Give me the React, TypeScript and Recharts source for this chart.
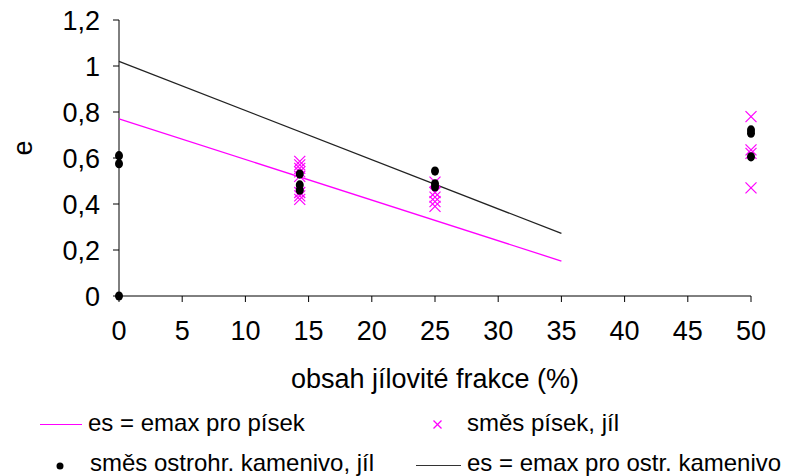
import { CartesianGrid, Label, Scatter, ScatterChart, XAxis, YAxis } from "recharts";

// obsah jílovité frakce (%) vs. e
const xTicks = [0, 5, 10, 15, 20, 25, 30, 35, 40, 45, 50];
const yTicks = [0, 0.2, 0.4, 0.6, 0.8, 1, 1.2];

const pisekLine = [
	{ x: 0, e: 0.77 },
	{ x: 35, e: 0.152 },
];
const kamenivoLine = [
	{ x: 0, e: 1.02 },
	{ x: 35, e: 0.272 },
];

const smesPisek = [
	{ x: 14.3, e: 0.585 },
	{ x: 14.3, e: 0.57 },
	{ x: 14.3, e: 0.555 },
	{ x: 14.3, e: 0.54 },
	{ x: 14.3, e: 0.52 },
	{ x: 14.3, e: 0.45 },
	{ x: 14.3, e: 0.435 },
	{ x: 14.3, e: 0.42 },
	{ x: 25, e: 0.495 },
	{ x: 25, e: 0.45 },
	{ x: 25, e: 0.43 },
	{ x: 25, e: 0.41 },
	{ x: 25, e: 0.39 },
	{ x: 50, e: 0.78 },
	{ x: 50, e: 0.635 },
	{ x: 50, e: 0.62 },
	{ x: 50, e: 0.47 },
];

const smesKamenivo = [
	{ x: 0, e: 0.61 },
	{ x: 0, e: 0.575 },
	{ x: 0, e: 0 },
	{ x: 14.3, e: 0.53 },
	{ x: 14.3, e: 0.483 },
	{ x: 14.3, e: 0.46 },
	{ x: 25, e: 0.543 },
	{ x: 25, e: 0.488 },
	{ x: 25, e: 0.474 },
	{ x: 50, e: 0.722 },
	{ x: 50, e: 0.708 },
	{ x: 50, e: 0.605 },
];

const font = "'Liberation Sans', Arial, sans-serif";
const axisFs = 27;
const legendFs = 24;
const fmt = (v: number) => String(v).replace(".", ",");

const Cross = (props: any) => {
	const { cx, cy } = props;
	const r = 5.5;
	return (
		<g stroke="#ff00ff" strokeWidth={1.2}>
			<line x1={cx - r} y1={cy - r} x2={cx + r} y2={cy + r} />
			<line x1={cx - r} y1={cy + r} x2={cx + r} y2={cy - r} />
		</g>
	);
};

const Dot = (props: any) => <ellipse cx={props.cx} cy={props.cy} rx={4} ry={4.6} fill="#000" />;

const legendText = {
	position: "absolute" as const,
	fontSize: legendFs,
	lineHeight: "24px",
	color: "#000",
	whiteSpace: "nowrap" as const,
};

export default function App() {
	return (
		<div style={{ position: "absolute", left: 0, top: 0, width: 788, height: 476, background: "#fff", fontFamily: font, overflow: "hidden" }}>
			<ScatterChart width={788} height={400} margin={{ top: 20, right: 37, bottom: 9, left: 39 }}>
				<CartesianGrid stroke="none" />
				<XAxis
					type="number"
					dataKey="x"
					domain={[0, 50]}
					ticks={xTicks}
					interval={0}
					height={95}
					tick={{ fontSize: axisFs, fill: "#000", fontFamily: font }}
					tickSize={6}
					tickMargin={19}
					stroke="#000"
				>
					<Label value="obsah jílovité frakce (%)" position="insideBottom" offset={3} fontSize={axisFs} fill="#000" fontFamily={font} />
				</XAxis>
				<YAxis
					type="number"
					dataKey="e"
					domain={[0, 1.2]}
					ticks={yTicks}
					interval={0}
					width={80}
					tickFormatter={fmt}
					tick={{ fontSize: axisFs, fill: "#000", fontFamily: font }}
					tickSize={6}
					tickMargin={13}
					stroke="#000"
				>
					<Label value="e" angle={-90} position="center" dx={-57} dy={-10} fontSize={axisFs} fill="#000" fontFamily={font} />
				</YAxis>
				<Scatter data={pisekLine} line={{ stroke: "#ff00ff", strokeWidth: 1.3 }} shape={() => <g />} isAnimationActive={false} />
				<Scatter data={kamenivoLine} line={{ stroke: "#222", strokeWidth: 1.3 }} shape={() => <g />} isAnimationActive={false} />
				<Scatter data={smesPisek} shape={Cross} isAnimationActive={false} />
				<Scatter data={smesKamenivo} shape={Dot} isAnimationActive={false} />
			</ScatterChart>

			{/* legend */}
			<div style={{ position: "absolute", left: 40, top: 424, width: 42, height: 0, borderTop: "1.5px solid #ff00ff" }} />
			<div style={{ ...legendText, left: 88, top: 411 }}>es = emax pro písek</div>
			<svg style={{ position: "absolute", left: 432, top: 419 }} width={11} height={11}>
				<line x1={1.5} y1={1.5} x2={9.5} y2={9.5} stroke="#ff00ff" strokeWidth={1.2} />
				<line x1={1.5} y1={9.5} x2={9.5} y2={1.5} stroke="#ff00ff" strokeWidth={1.2} />
			</svg>
			<div style={{ ...legendText, left: 467, top: 411 }}>směs písek, jíl</div>
			<svg style={{ position: "absolute", left: 55, top: 461 }} width={10} height={10}>
				<circle cx={5} cy={5} r={3.5} fill="#000" />
			</svg>
			<div style={{ ...legendText, left: 90, top: 451 }}>směs ostrohr. kamenivo, jíl</div>
			<div style={{ position: "absolute", left: 416, top: 465, width: 45, height: 0, borderTop: "1.5px solid #333" }} />
			<div style={{ ...legendText, left: 467, top: 451 }}>es = emax pro ostr. kamenivo</div>
		</div>
	);
}
